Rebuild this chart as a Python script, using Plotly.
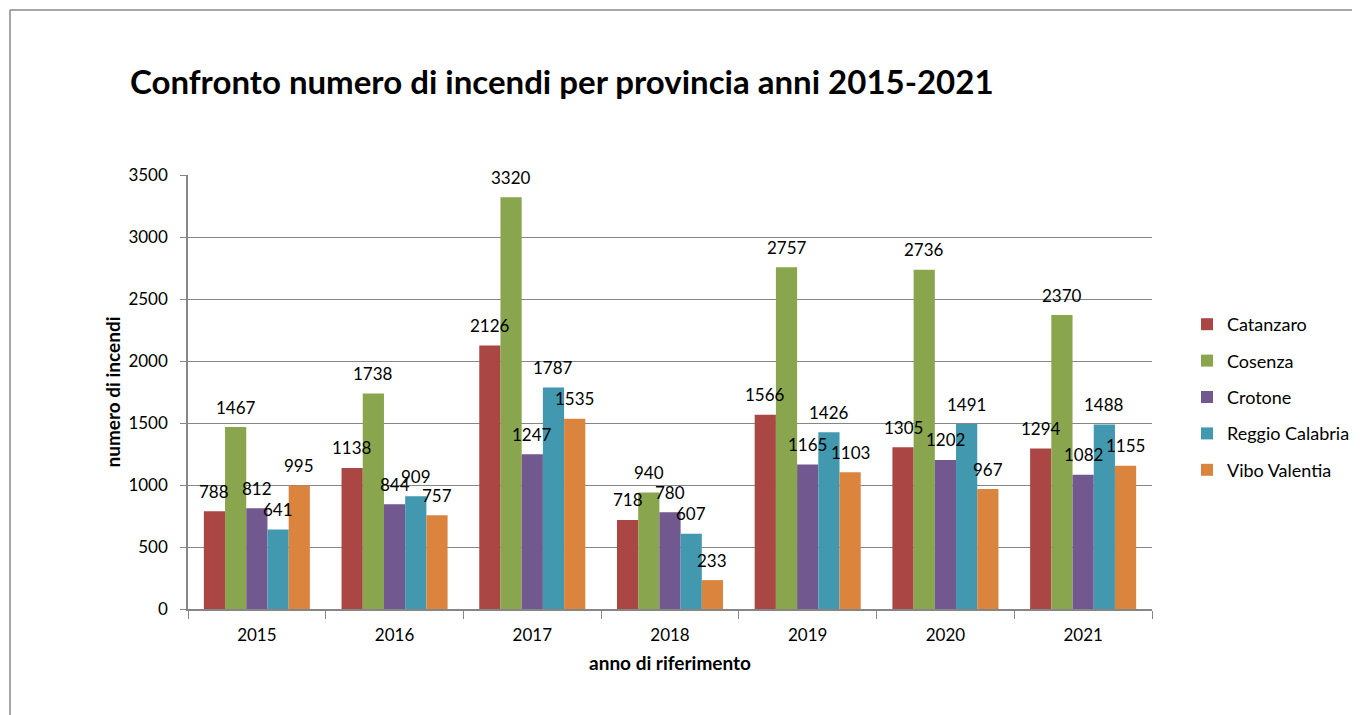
import plotly.graph_objects as go

years = ["2015", "2016", "2017", "2018", "2019", "2020", "2021"]
catanzaro = [788, 1138, 2126, 718, 1566, 1305, 1294]
cosenza = [1467, 1738, 3320, 940, 2757, 2736, 2370]
crotone = [812, 844, 1247, 780, 1165, 1202, 1082]
reggio = [641, 909, 1787, 607, 1426, 1491, 1488]
vibo = [995, 757, 1535, 233, 1103, 967, 1155]

series = [
    ("Catanzaro", catanzaro, "#AA4643"),
    ("Cosenza", cosenza, "#89A54E"),
    ("Crotone", crotone, "#71588F"),
    ("Reggio Calabria", reggio, "#4198AF"),
    ("Vibo Valentia", vibo, "#DB843D"),
]

FONT = "Lato, 'Open Sans', sans-serif"
BARGAP = 0.23

W, H = 1360, 715
OFF = 8  # page offset of the figure
L, R, T, B = 188, 1152, 175, 609  # plot area, page pixels
pw, ph = R - L, B - T


def px(x):
    return (x - L) / pw


def py(y):
    return (B - y) / ph


fig = go.Figure()
n = len(series)
bw = (1 - BARGAP) / n
annotations = []
for k, (name, vals, col) in enumerate(series):
    fig.add_trace(go.Bar(
        x=years, y=vals, name=name, marker_color=col, marker_line_width=0,
        legendgroup=name, cliponaxis=False,
    ))
    off = -(1 - BARGAP) / 2 + bw * (k + 0.5)
    for i, v in enumerate(vals):
        annotations.append(dict(
            x=i + off, y=v, xref="x", yref="y", text=str(v), showarrow=False,
            yanchor="middle", xanchor="center", yshift=20,
            font=dict(size=17, family=FONT, color="#000"),
        ))

fig.update_layout(
    width=W, height=H,
    margin=dict(l=L - OFF, r=W - (R - OFF), t=T - OFF, b=H - (B - OFF), autoexpand=False),
    paper_bgcolor="white", plot_bgcolor="white",
    barmode="group", bargap=BARGAP, bargroupgap=0,
    font=dict(family=FONT, size=17, color="#000"),
    title=dict(text="<b>Confronto numero di incendi per provincia anni 2015-2021</b>",
               x=(130 - OFF) / W, xref="container", xanchor="left",
               y=1 - (82 - OFF) / H, yref="container", yanchor="middle",
               font=dict(size=33, family=FONT, color="#000")),
    legend=dict(x=px(1187), xanchor="left", y=py(306), yanchor="top",
                font=dict(size=18, family=FONT), tracegroupgap=10, itemwidth=30,
                bgcolor="rgba(0,0,0,0)"),
    annotations=annotations,
    xaxis=dict(showline=True, linecolor="#868686", linewidth=1.5, ticks="outside",
               tickson="boundaries", ticklen=8, tickcolor="#868686",
               ticklabelstandoff=10,
               tickfont=dict(size=17, family=FONT),
               title=dict(text="<b>anno di riferimento</b>", font=dict(size=19, family=FONT),
                          standoff=13)),
    yaxis=dict(range=[0, 3500], dtick=500, showline=True, linecolor="#868686", linewidth=1.5,
               ticks="outside", ticklen=6, tickcolor="#868686",
               ticklabelstandoff=9,
               showgrid=True, gridcolor="#868686", gridwidth=1,
               tickfont=dict(size=17, family=FONT),
               title=dict(text="<b>numero di incendi</b>", font=dict(size=19, family=FONT),
                          standoff=3)),
    shapes=[
        dict(type="line", xref="paper", yref="paper", x0=px(10), x1=px(1368), y0=py(10), y1=py(10),
             line=dict(color="#888", width=1.5)),
        dict(type="line", xref="paper", yref="paper", x0=px(10), x1=px(10), y0=py(10), y1=py(723),
             line=dict(color="#888", width=1.5)),
    ],
)

fig.write_html("out.html")
